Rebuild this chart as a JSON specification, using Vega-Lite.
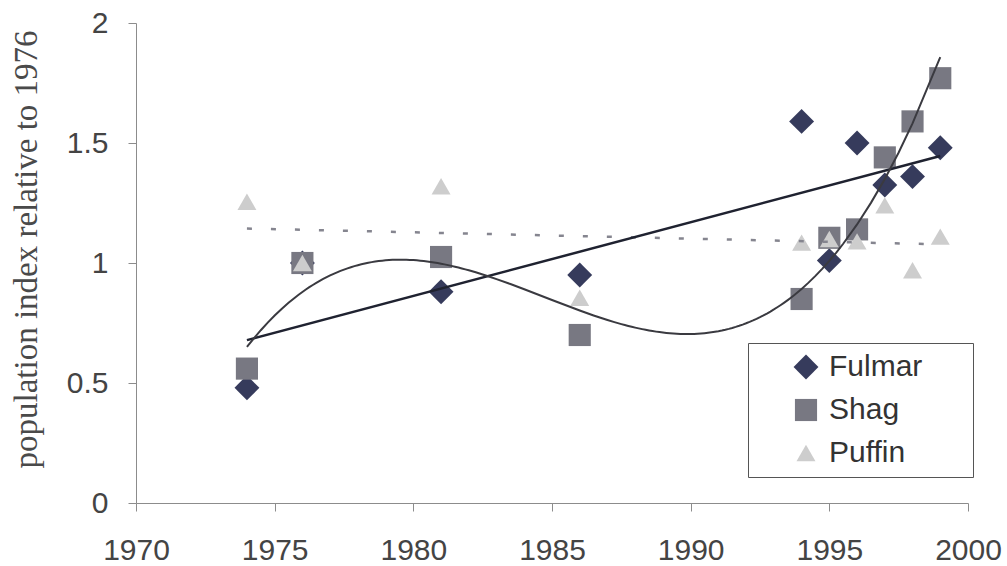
{
  "$schema": "https://vega.github.io/schema/vega-lite/v6.json",
  "width": 832,
  "height": 480,
  "autosize": "none",
  "padding": {"left": 136, "top": 23, "right": 39, "bottom": 63},
  "background": "white",
  "config": {
    "view": {"stroke": null},
    "axis": {
      "grid": false,
      "domainColor": "#8c8c8c",
      "tickColor": "#8c8c8c",
      "tickSize": 8,
      "labelFont": "Liberation Sans",
      "labelFontSize": 30,
      "labelColor": "#444444",
      "labelFlush": false,
      "labelOverlap": false
    },
    "legend": {
      "labelFont": "Liberation Sans",
      "labelFontSize": 30,
      "labelColor": "#333333"
    }
  },
  "data": {
    "values": [
      {"species": "Fulmar", "year": 1974, "value": 0.48},
      {"species": "Fulmar", "year": 1976, "value": 1.0},
      {"species": "Fulmar", "year": 1981, "value": 0.88},
      {"species": "Fulmar", "year": 1986, "value": 0.95},
      {"species": "Fulmar", "year": 1994, "value": 1.59},
      {"species": "Fulmar", "year": 1995, "value": 1.01},
      {"species": "Fulmar", "year": 1996, "value": 1.5},
      {"species": "Fulmar", "year": 1997, "value": 1.325},
      {"species": "Fulmar", "year": 1998, "value": 1.36},
      {"species": "Fulmar", "year": 1999, "value": 1.48},
      {"species": "Shag", "year": 1974, "value": 0.56},
      {"species": "Shag", "year": 1976, "value": 1.0},
      {"species": "Shag", "year": 1981, "value": 1.025},
      {"species": "Shag", "year": 1986, "value": 0.7},
      {"species": "Shag", "year": 1994, "value": 0.85},
      {"species": "Shag", "year": 1995, "value": 1.105},
      {"species": "Shag", "year": 1996, "value": 1.14},
      {"species": "Shag", "year": 1997, "value": 1.44},
      {"species": "Shag", "year": 1998, "value": 1.59},
      {"species": "Shag", "year": 1999, "value": 1.77},
      {"species": "Puffin", "year": 1974, "value": 1.255},
      {"species": "Puffin", "year": 1976, "value": 1.0},
      {"species": "Puffin", "year": 1981, "value": 1.32},
      {"species": "Puffin", "year": 1986, "value": 0.855},
      {"species": "Puffin", "year": 1994, "value": 1.085},
      {"species": "Puffin", "year": 1995, "value": 1.1},
      {"species": "Puffin", "year": 1996, "value": 1.09},
      {"species": "Puffin", "year": 1997, "value": 1.24},
      {"species": "Puffin", "year": 1998, "value": 0.97},
      {"species": "Puffin", "year": 1999, "value": 1.11}
    ]
  },
  "layer": [
    {
      "mark": {"type": "point", "filled": true, "opacity": 1},
      "encoding": {
        "x": {
          "field": "year", "type": "quantitative",
          "scale": {"domain": [1970, 2000], "nice": false, "zero": false},
          "axis": {"title": null, "values": [1970, 1975, 1980, 1985, 1990, 1995, 2000], "format": "d", "labelPadding": 24}
        },
        "y": {
          "field": "value", "type": "quantitative",
          "scale": {"domain": [0, 2], "nice": false},
          "axis": {
            "title": "population index relative to 1976",
            "values": [0, 0.5, 1, 1.5, 2],
            "format": ".1~f",
            "labelPadding": 20,
            "titleFont": "Liberation Serif",
            "titleFontSize": 33,
            "titleFontWeight": "normal",
            "titleColor": "#4a4a4a",
            "titleAngle": 270,
            "titleAlign": "left",
            "titleBaseline": "alphabetic",
            "titleX": -100,
            "titleY": 445
          }
        },
        "color": {
          "field": "species", "type": "nominal",
          "scale": {"domain": ["Fulmar", "Shag", "Puffin"], "range": ["#363b5c", "#787882", "#cdcdcd"]},
          "legend": {
            "orient": "none", "legendX": 612, "legendY": 320,
            "fillColor": "white", "strokeColor": "#555555",
            "padding": 9, "rowPadding": 13, "symbolOffset": 34, "labelOffset": 8,
            "title": "MM", "titleOrient": "right", "titleOpacity": 0,
            "titleFontSize": 25, "titlePadding": 0
          }
        },
        "shape": {
          "field": "species", "type": "nominal",
          "scale": {"domain": ["Fulmar", "Shag", "Puffin"], "range": ["diamond", "square", "triangle-up"]}
        },
        "size": {
          "field": "species", "type": "nominal",
          "scale": {"domain": ["Fulmar", "Shag", "Puffin"], "range": [620, 360, 470]}
        }
      }
    },
    {
      "transform": [{"filter": {"field": "species", "equal": "Puffin"}}, {"regression": "value", "on": "year"}],
      "mark": {"type": "line", "color": "#85858f", "strokeWidth": 2.5, "strokeDash": [5, 19]},
      "encoding": {"x": {"field": "year", "type": "quantitative"}, "y": {"field": "value", "type": "quantitative"}}
    },
    {
      "transform": [{"filter": {"field": "species", "equal": "Fulmar"}}, {"regression": "value", "on": "year"}],
      "mark": {"type": "line", "color": "#1f2230", "strokeWidth": 2.5},
      "encoding": {"x": {"field": "year", "type": "quantitative"}, "y": {"field": "value", "type": "quantitative"}}
    },
    {
      "transform": [{"filter": {"field": "species", "equal": "Shag"}}, {"regression": "value", "on": "year", "method": "poly", "order": 3}],
      "mark": {"type": "line", "color": "#3a3a40", "strokeWidth": 2},
      "encoding": {"x": {"field": "year", "type": "quantitative"}, "y": {"field": "value", "type": "quantitative"}}
    }
  ]
}
